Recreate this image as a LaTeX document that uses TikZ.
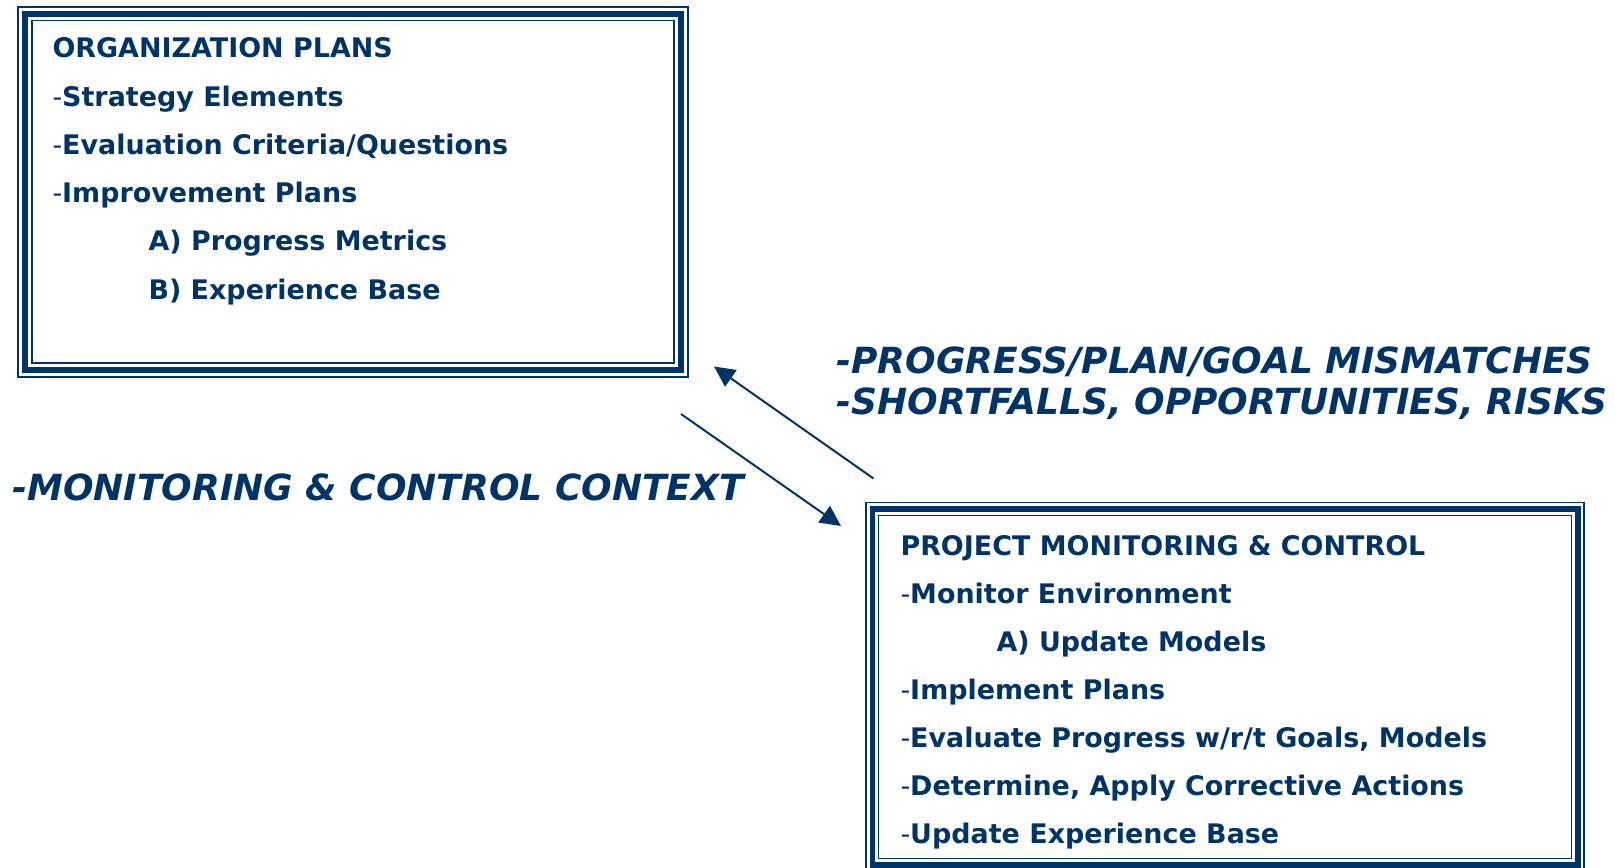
\documentclass[tikz,border=0pt]{standalone}
\usepackage{fontspec}
\setmainfont{DejaVu Sans}
\usetikzlibrary{arrows.meta}

\definecolor{navy}{RGB}{0,51,102}

\tikzset{every picture/.style={line width=0.75pt}}
\tikzset{
  itemtext/.style={anchor=base west, inner sep=0pt, text=navy,
    font=\fontsize{20.2}{24}\selectfont\bfseries},
  flowtext/.style={anchor=base west, inner sep=0pt, text=navy,
    font=\fontsize{27}{32}\selectfont\bfseries\itshape},
  thinrule/.style={draw=navy, line width=1.1pt},
  thickrule/.style={draw=navy, line width=4.2pt},
  flowarrow/.style={draw=navy, line width=1.5pt, -{Triangle[length=15.5pt,width=15pt]}}
}

\begin{document}
\begin{tikzpicture}[x=0.75pt,y=0.75pt,yscale=-1,xscale=1]
\useasboundingbox (0,0) rectangle (1615,867);

%Shape: Rectangle [id:orgbox outer]
\draw [thinrule] (18,7) -- (688,7) -- (688,377) -- (18,377) -- cycle ;
%Shape: Rectangle [id:orgbox]
\draw [thickrule] (25,14) -- (681,14) -- (681,370) -- (25,370) -- cycle ;
%Shape: Rectangle [id:orgbox inner]
\draw [thinrule] (32,20.5) -- (674,20.5) -- (674,363) -- (32,363) -- cycle ;

%Shape: Rectangle [id:pmcbox outer]
\draw [thinrule] (866,502.5) -- (1584,502.5) -- (1584,872) -- (866,872) -- cycle ;
%Shape: Rectangle [id:pmcbox]
\draw [thickrule] (872.5,509) -- (1578,509) -- (1578,865) -- (872.5,865) -- cycle ;
%Shape: Rectangle [id:pmcbox inner]
\draw [thinrule] (878.5,515.5) -- (1571.5,515.5) -- (1571.5,858.5) -- (878.5,858.5) -- cycle ;

% Text Node
\draw (52,58) node [itemtext] (orgtitle) {ORGANIZATION PLANS};
% Text Node
\draw (52,106.2) node [itemtext] (orgstrat) {{\mdseries -}Strategy Elements};
% Text Node
\draw (52,154.4) node [itemtext] (orgeval) {{\mdseries -}Evaluation Criteria/Questions};
% Text Node
\draw (52,202.6) node [itemtext] (orgimpr) {{\mdseries -}Improvement Plans};
% Text Node
\draw (148,250.8) node [itemtext] (orgmetr) {A) Progress Metrics};
% Text Node
\draw (148,299) node [itemtext] (orgbase) {B) Experience Base};

% Text Node
\draw (900,555) node [itemtext] (pmctitle) {PROJECT MONITORING \& CONTROL};
% Text Node
\draw (900,603) node [itemtext] (pmcenv) {{\mdseries -}Monitor Environment};
% Text Node
\draw (996,651) node [itemtext] (pmcmod) {A) Update Models};
% Text Node
\draw (900,699) node [itemtext] (pmcimpl) {{\mdseries -}Implement Plans};
% Text Node
\draw (900,747) node [itemtext] (pmceval) {{\mdseries -}Evaluate Progress w/r/t Goals, Models};
% Text Node
\draw (900,795) node [itemtext] (pmcact) {{\mdseries -}Determine, Apply Corrective Actions};
% Text Node
\draw (900,843) node [itemtext] (pmcexp) {{\mdseries -}Update Experience Base};

% Text Node
\draw (836,373) node [flowtext] (mismatch) {-PROGRESS/PLAN/GOAL MISMATCHES};
% Text Node
\draw (836,414) node [flowtext] (shortfall) {-SHORTFALLS, OPPORTUNITIES, RISKS};
% Text Node
\draw (12,500) node [flowtext] (context) {-MONITORING \& CONTROL CONTEXT};

% arrow ends
\coordinate (upfrom) at (873.5,478.5);
\coordinate (upto) at (714,366.5);
\coordinate (downfrom) at (681,414);
\coordinate (downto) at (841,526);

%Straight Lines
\draw [flowarrow] (upfrom) -- (upto) ;
%Straight Lines
\draw [flowarrow] (downfrom) -- (downto) ;

\end{tikzpicture}
\end{document}
